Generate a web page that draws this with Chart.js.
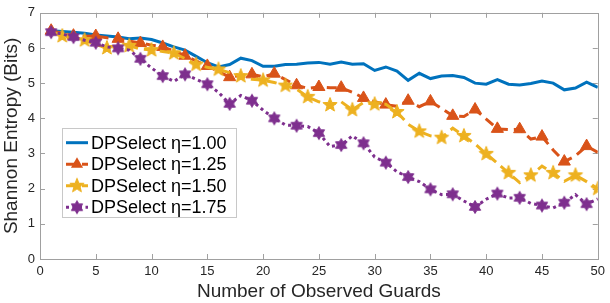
<!DOCTYPE html>
<html><head><meta charset="utf-8">
<script src="https://cdn.jsdelivr.net/npm/chart.js@4.4.1/dist/chart.umd.min.js"></script>
<style>html,body{margin:0;padding:0;background:#fff}#wrap{width:610px;height:303px}</style>
</head><body><div id="wrap"><canvas id="c" width="610" height="303"></canvas></div>
<script>
// ---- data ----
const guards = [1,2,3,4,5,6,7,8,9,10,11,12,13,14,15,16,17,18,19,20,21,22,23,24,25,26,27,28,29,30,31,32,33,34,35,36,37,38,39,40,41,42,43,44,45,46,47,48,49,50];
const seriesNames = ['DPSelect η=1.00','DPSelect η=1.25','DPSelect η=1.50','DPSelect η=1.75'];
const eta100 = [6.49,6.47,6.45,6.42,6.37,6.34,6.31,6.26,6.28,6.24,6.14,6.03,5.94,5.76,5.58,5.46,5.53,5.71,5.64,5.48,5.48,5.53,5.54,5.57,5.59,5.54,5.60,5.54,5.55,5.36,5.46,5.34,5.08,5.28,5.13,5.20,5.22,5.16,5.00,4.97,5.10,4.97,4.95,4.99,5.06,5.00,4.81,4.86,5.03,4.88];
const eta125 = [6.49,6.42,6.35,6.33,6.34,6.29,6.26,6.20,6.14,6.08,6.03,5.92,5.78,5.63,5.49,5.33,5.17,5.22,5.25,5.18,5.27,5.10,4.94,4.85,4.89,4.87,4.87,4.74,4.58,4.47,4.39,4.34,4.50,4.33,4.48,4.28,4.07,4.05,4.25,3.98,3.70,3.68,3.69,3.41,3.48,3.10,2.77,2.93,3.21,3.03];
const eta150 = [6.48,6.34,6.28,6.22,6.10,6.00,6.04,6.06,5.97,5.94,5.90,5.85,5.70,5.53,5.45,5.39,5.30,5.20,5.11,5.08,5.02,4.93,4.83,4.61,4.47,4.38,4.47,4.24,4.45,4.40,4.40,4.18,3.83,3.63,3.50,3.45,3.72,3.50,3.27,2.99,2.72,2.45,2.17,2.38,2.64,2.45,2.21,2.38,2.20,2.00];
const eta175 = [6.45,6.40,6.31,6.22,6.15,6.03,5.99,5.94,5.69,5.43,5.20,5.05,5.25,5.11,4.97,4.74,4.41,4.65,4.50,4.23,4.00,3.81,3.79,3.77,3.58,3.20,3.24,3.50,3.29,2.90,2.74,2.48,2.33,2.20,1.98,1.83,1.84,1.65,1.48,1.70,1.86,1.73,1.74,1.58,1.52,1.45,1.60,1.83,1.56,1.71];
const xTickValues = [0,5,10,15,20,25,30,35,40,45,50];
const yTickValues = [0,1,2,3,4,5,6,7];
const xTitle = 'Number of Observed Guards';
const yTitle = 'Shannon Entropy (Bits)';

// ---- styles ----
const BLUE='#0072BD', ORANGE='#D95319', YELLOW='#EDB120', PURPLE='#7E2F8E';
const TEXT='#262626', AXIS='#a0a0a0';
function starCanvas(color, n, rOut, rIn){
  const c=document.createElement('canvas'); const s=Math.ceil(rOut*2+3);
  c.width=c.height=s; const g=c.getContext('2d');
  g.fillStyle=color; g.strokeStyle=color; g.lineWidth=1; g.lineJoin='miter';
  g.beginPath();
  for(let i=0;i<n*2;i++){const r=i%2?rIn:rOut; const a=-Math.PI/2+i*Math.PI/n;
    const px=s/2+r*Math.cos(a), py=s/2+r*Math.sin(a); i?g.lineTo(px,py):g.moveTo(px,py);}
  g.closePath(); g.fill(); g.stroke(); return c;
}
const star5 = starCanvas(YELLOW,5,7.5,3.2);
const hexa = starCanvas(PURPLE,6,6.5,3.75);

function pts(arr){return guards.map((g,i)=>({x:g,y:arr[i]}));}
const oddMarks = (r)=>guards.map(g=>g%2===1?r:0);
const evenMarks = (r)=>guards.map(g=>g%2===0?r:0);

const datasets=[
  {label:seriesNames[0],data:pts(eta100),borderColor:BLUE,backgroundColor:BLUE,borderWidth:3,pointRadius:0,order:3,_dash:[]},
  {label:seriesNames[1],data:pts(eta125),borderColor:ORANGE,backgroundColor:ORANGE,borderWidth:3,borderDash:[10,6],
   pointStyle:'triangle',pointRadius:oddMarks(7),pointBorderWidth:1,pointBackgroundColor:ORANGE,pointBorderColor:ORANGE,order:2,_dash:[10,6]},
  {label:seriesNames[2],data:pts(eta150),borderColor:YELLOW,backgroundColor:YELLOW,borderWidth:3,borderDash:[10,6],
   pointStyle:star5,pointRadius:evenMarks(7),order:1,_dash:[10,6]},
  {label:seriesNames[3],data:pts(eta175),borderColor:PURPLE,backgroundColor:PURPLE,borderWidth:3,borderDash:[3,3.5],
   pointStyle:hexa,pointRadius:oddMarks(6),order:0,_dash:[3,3.5]}
];

const frame={id:'frame',beforeDatasetsDraw(chart){
  const {ctx,chartArea:a,scales:{x,y}}=chart;
  ctx.save(); ctx.strokeStyle=AXIS; ctx.lineWidth=1;
  ctx.strokeRect(Math.round(a.left)+0.5,Math.round(a.top)+0.5,Math.round(a.right-a.left),Math.round(a.bottom-a.top));
  const L=5; ctx.beginPath();
  xTickValues.forEach(v=>{const px=Math.round(x.getPixelForValue(v))+0.5;
    if(v===0||v===50)return; ctx.moveTo(px,a.bottom);ctx.lineTo(px,a.bottom-L);ctx.moveTo(px,a.top);ctx.lineTo(px,a.top+L);});
  yTickValues.forEach(v=>{const py=Math.round(y.getPixelForValue(v))+0.5;
    if(v===0||v===7)return; ctx.moveTo(a.left,py);ctx.lineTo(a.left+L,py);ctx.moveTo(a.right,py);ctx.lineTo(a.right-L,py);});
  ctx.stroke(); ctx.restore();
}};

const legendBox={id:'legendBox',afterDraw(chart){
  const ctx=chart.ctx; ctx.save();
  const bx=62,by=128,bw=174,bh=89;
  ctx.fillStyle='#fff'; ctx.fillRect(bx,by,bw,bh);
  ctx.strokeStyle='#c8c8c8'; ctx.lineWidth=1; ctx.strokeRect(bx+0.5,by+0.5,bw,bh);
  ctx.font='18px "Liberation Sans", Arial, sans-serif'; ctx.textBaseline='middle'; ctx.fillStyle='#000';
  chart.data.datasets.forEach((d,i)=>{
    const cy=by+14.7+i*21.5;
    ctx.save(); ctx.strokeStyle=d.borderColor; ctx.lineWidth=3; ctx.setLineDash(d._dash);
    ctx.beginPath(); ctx.moveTo(66,cy); ctx.lineTo(88,cy); ctx.stroke(); ctx.restore();
    const mx=77;
    if(d.pointStyle==='triangle'){const r=7; ctx.fillStyle=d.borderColor; ctx.beginPath();
      for(let k=0;k<3;k++){const ang=-Math.PI/2+k*2*Math.PI/3; const px=mx+r*Math.cos(ang),py=cy+r*Math.sin(ang); k?ctx.lineTo(px,py):ctx.moveTo(px,py);} ctx.closePath(); ctx.fill();}
    else if(d.pointStyle instanceof HTMLCanvasElement){const s=d.pointStyle; ctx.drawImage(s,mx-s.width/2,cy-s.height/2);}
    ctx.fillStyle='#000'; ctx.fillText(d.label,91,cy+1);
  });
  ctx.restore();
}};

new Chart(document.getElementById('c'),{
  type:'line',
  data:{datasets},
  options:{
    responsive:false,animation:false,devicePixelRatio:1,
    layout:{padding:{top:7,right:7,left:0,bottom:0}},
    plugins:{legend:{display:false},tooltip:{enabled:false}},
    elements:{line:{tension:0,borderCapStyle:'butt'}},
    scales:{
      x:{type:'linear',min:0,max:50,
        afterBuildTicks:s=>{s.ticks=xTickValues.map(v=>({value:v}));},
        afterFit:s=>{s.height=44;},
        grid:{display:false,drawTicks:false},border:{display:false},
        ticks:{color:TEXT,font:{family:'"Liberation Sans", Arial, sans-serif',size:13},padding:5,maxRotation:0,autoSkip:false},
        title:{display:true,text:xTitle,color:TEXT,font:{family:'"Liberation Sans", Arial, sans-serif',size:19},padding:{top:0,bottom:0}}},
      y:{min:0,max:7,
        afterBuildTicks:s=>{s.ticks=yTickValues.map(v=>({value:v}));},
        afterFit:s=>{s.width=40;},
        grid:{display:false,drawTicks:false},border:{display:false},
        ticks:{color:TEXT,font:{family:'"Liberation Sans", Arial, sans-serif',size:13},padding:5},
        title:{display:true,text:yTitle,color:TEXT,font:{family:'"Liberation Sans", Arial, sans-serif',size:19},padding:{top:0,bottom:0}}}
    }
  },
  plugins:[frame,legendBox]
});
</script></body></html>
